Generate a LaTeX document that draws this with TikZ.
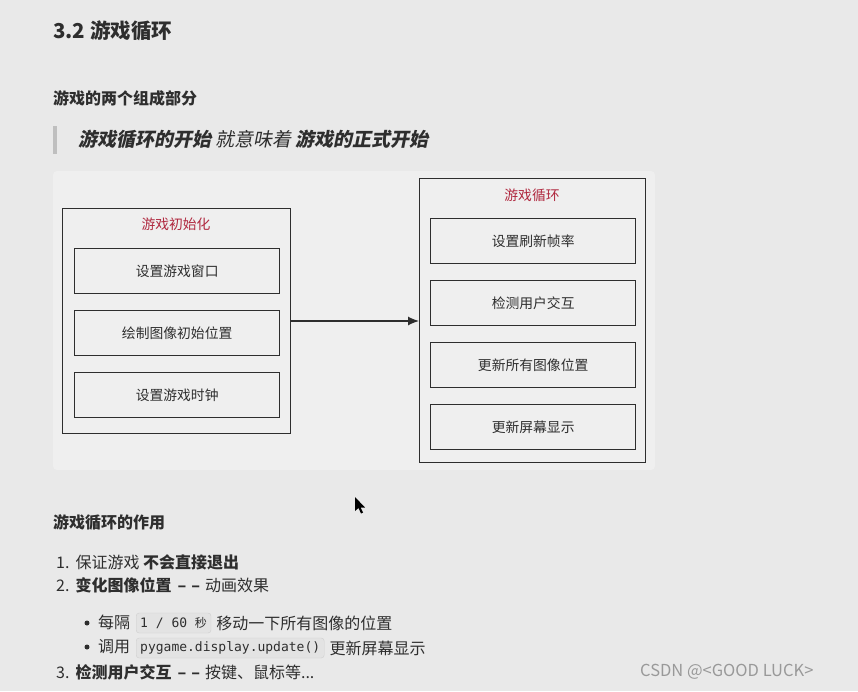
\documentclass[tikz,border=0pt]{standalone}
\usepackage{fontspec}
\usetikzlibrary{arrows.meta}
\setmainfont{Noto Sans CJK SC}
\newfontfamily\cjkit{Noto Sans CJK SC}[FakeSlant=0.2]
\newfontfamily\codefont{DejaVu Sans Mono}
\definecolor{bg}{HTML}{E9E9E9}
\definecolor{panel}{HTML}{EFEFEF}
\definecolor{ink}{HTML}{2E2E2E}
\definecolor{redt}{HTML}{B0283F}
\definecolor{codebg}{HTML}{E3E3E3}
\definecolor{codeln}{HTML}{CFCFCF}
\newcommand{\dd}{\hspace{6pt}–\hspace{5pt}–\hspace{5pt}}
\begin{document}
\begin{tikzpicture}[x=1pt,y=-1pt,
  box/.style={draw=ink, line width=1.3pt, anchor=north west, inner sep=0pt},
  itembox/.style={box, minimum width=205pt, minimum height=45pt},
  lbl/.style={font=\fontsize{13.8}{16}\selectfont, text=ink},
  ttl/.style={font=\fontsize{13.8}{16}\selectfont, text=redt},
  txt/.style={anchor=west, inner sep=0pt, text=ink},
  body/.style={txt, font=\fontsize{16}{19}\selectfont},
  dot/.style={circle, fill=ink, inner sep=0pt, minimum size=5pt},
  code/.style={anchor=west, fill=codebg, draw=codeln, rounded corners=3pt, inner xsep=4pt, inner ysep=0pt, minimum height=20pt, text=ink, font=\codefont\fontsize{13}{15}\selectfont}]
\fill[bg] (0,0) rectangle (858,691);
\useasboundingbox (0,0) rectangle (858,691);
% headings
\node[txt, font=\fontsize{20.5}{24}\selectfont\bfseries] (h1) at (53,31) {3.2 游戏循环};
\node[txt, font=\fontsize{16}{19}\selectfont\bfseries] (h2) at (53,98) {游戏的两个组成部分};
\fill[black!25] (53,126) rectangle (57,154);
\node[txt, font=\fontsize{19}{22}\selectfont\cjkit] (quote) at (78,139) {\textbf{游戏循环的开始} 就意味着 \textbf{游戏的正式开始}};
% panel
\fill[panel, rounded corners=4pt] (53,171) rectangle (655,470);
% left group
\node[box, minimum width=228pt, minimum height=225pt] (init) at (62,208) {};
\node[ttl] (initt) at (176,224) {游戏初始化};
\node[itembox] (a1) at (74,248) {};
\node[itembox] (a2) at (74,310) {};
\node[itembox] (a3) at (74,372) {};
\node[lbl] at (a1.center) {设置游戏窗口};
\node[lbl] at (a2.center) {绘制图像初始位置};
\node[lbl] at (a3.center) {设置游戏时钟};
% right group
\node[box, minimum width=226pt, minimum height=284pt] (loop) at (419,178) {};
\node[ttl] (loopt) at (532,195) {游戏循环};
\node[itembox] (b1) at (430,218) {};
\node[itembox] (b2) at (430,280) {};
\node[itembox] (b3) at (430,342) {};
\node[itembox] (b4) at (430,404) {};
\node[lbl] at (b1.center) {设置刷新帧率};
\node[lbl] at (b2.center) {检测用户交互};
\node[lbl] at (b3.center) {更新所有图像位置};
\node[lbl] at (b4.center) {更新屏幕显示};
\coordinate (arrS) at (290,321);
\coordinate (arrE) at (419,321);
\draw[ink, line width=1.2pt, -{Latex[length=11pt,width=9pt]}] (arrS) -- (arrE);
% cursor
\fill[black] (355,497) -- (355,511) -- (358.5,508) -- (361,513.5) -- (363,512.5) -- (360.5,507.5) -- (365,507.5) -- cycle;
% lower section
\node[txt, font=\fontsize{16}{19}\selectfont\bfseries] (h3) at (53,522) {游戏循环的作用};
\node[body] (l1) at (56,562) {1.\hspace{6pt}保证游戏 \textbf{不会直接退出}};
\node[body] (l2) at (56,585) {2.\hspace{6pt}\textbf{变化图像位置\dd}动画效果};
\node[dot] (d1) at (87,623) {};
\node[body] (b1t) at (98,622) {每隔};
\node[code] (c1) at (136,623) {1 / 60 {\rmfamily\fontsize{12}{14}\selectfont 秒}};
\node[body] (b1e) at ([xshift=5pt]c1.east) {移动一下所有图像的位置};
\node[dot] (d2) at (87,647) {};
\node[body] (b2t) at (98,647) {调用};
\node[code] (c2) at (136,648) {pygame.display.update()};
\node[body] (b2e) at ([xshift=5pt]c2.east) {更新屏幕显示};
\node[body] (l3) at (56,672) {3.\hspace{6pt}\textbf{检测用户交互\dd}按键、鼠标等...};
% watermark
\node[txt, text=black!40, font=\fontsize{16.5}{19}\selectfont] (wm) at (640,672) {CSDN @<GOOD LUCK>};
\end{tikzpicture}
\end{document}
